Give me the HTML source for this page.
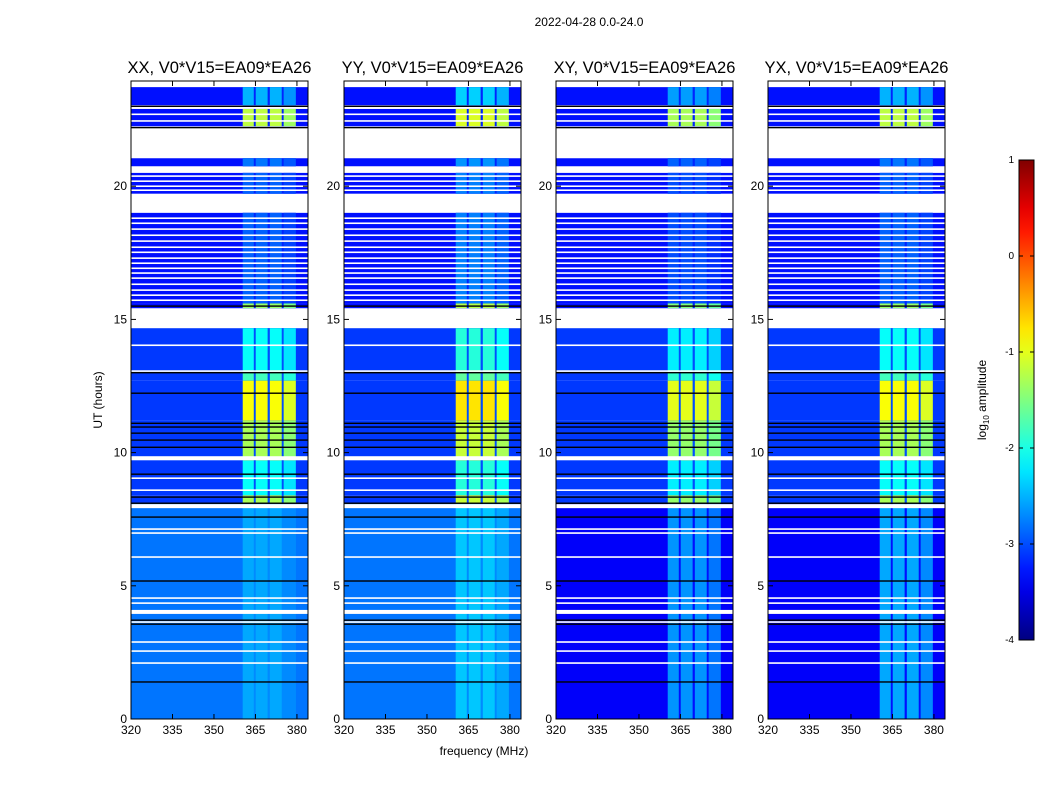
<!DOCTYPE html>
<html><head><meta charset="utf-8"><style>
body{margin:0;background:#fff;font-family:"Liberation Sans",sans-serif}
svg text{font-family:"Liberation Sans",sans-serif}
</style></head><body>
<svg id="fig" width="1050" height="800" viewBox="0 0 1050 800">
<text x="589" y="26" font-size="12" text-anchor="middle">2022-04-28 0.0-24.0</text>
<text x="484" y="755" font-size="12" text-anchor="middle">frequency (MHz)</text>
<text transform="translate(102,400) rotate(-90)" font-size="12" text-anchor="middle">UT (hours)</text>
<text transform="translate(986,400) rotate(-90)" font-size="12" text-anchor="middle">log<tspan font-size="8" dy="3">10</tspan><tspan dy="-3"> amplitude</tspan></text>
</svg>
<script>
// ---- data ----
const panelTitles = ["XX, V0*V15=EA09*EA26","YY, V0*V15=EA09*EA26","XY, V0*V15=EA09*EA26","YX, V0*V15=EA09*EA26"];
const panelLowerBg = [-2.8, -2.8, -3.4, -3.4];   // background level below 8 h
const panelRfiShift = [0, 0.15, -0.1, 0.0];
const xTicks = [320,335,350,365,380];
const yTicks = [0,5,10,15,20];
const cbTicks = [1,0,-1,-2,-3,-4];
// segments: start hour, end hour, background level (null = no data), RFI level
const segStart = [23.72,23.04,22.25,21.05,20.75,20.5,19.72,19.0,15.6,15.42,14.67,13.1,12.7,11.2,9.7,8.4,8.1,0];
const segEnd   = [23.95,23.72,22.9,22.14,21.05,20.75,20.5,19.72,19.0,15.6,15.42,14.67,13.1,12.7,11.2,9.7,8.4,8.1];
const segBg    = [null,-3.3,-3.3,null,-3.3,null,-3.3,null,-3.3,-3.3,null,-3.1,-3.1,-3.1,-3.1,-3.1,-3.1,"lower"];
const segRfi   = [null,-2.5,-1.2,null,-2.8,null,-2.9,null,-2.9,-1.4,null,-2.1,-1.8,-0.9,-1.3,-2.1,-1.3,-2.55];
// RFI bands (MHz)
const bandLo = [360.4,365.1,370.2,375.2];
const bandHi = [364.4,369.4,374.5,379.6];
const whiteLines = [22.95,22.7,22.45,20.38,20.19,20.0,19.85,18.80,18.61,18.39,18.16,17.94,17.71,17.52,17.30,17.11,16.92,16.74,16.55,16.32,16.10,15.91,15.72,14.03,13.06,9.04,8.59,7.13,6.98,6.08,4.54,4.35,3.64,2.89,2.55,2.10];
const thickWhite = [9.79,7.99,4.02];
const blackLines = [23.0,22.2,15.5,13.0,12.23,11.1,10.96,10.73,10.47,10.2,9.19,8.33,8.1,7.58,5.18,3.71,3.56,1.39];
// ---- drawing ----
const NS="http://www.w3.org/2000/svg";
const svg=document.getElementById('fig');
function mk(tag,attrs,parent){const e=document.createElementNS(NS,tag);for(const k in attrs)e.setAttribute(k,attrs[k]);(parent||svg).appendChild(e);return e;}
function clamp(v){return Math.max(0,Math.min(1,v));}
function jet(level){const v=clamp((level+4)/5);
 const r=clamp(1.5-Math.abs(4*v-3)),g=clamp(1.5-Math.abs(4*v-2)),b=clamp(1.5-Math.abs(4*v-1));
 return `rgb(${Math.round(r*255)},${Math.round(g*255)},${Math.round(b*255)})`;}
const panelX=[131,344,556,768], PW=177, PT=81, PB=719;
const fMin=320, fMax=384, hMin=0, hMax=23.95;
panelX.forEach((x0,p)=>{
 const g=mk('g',{});
 
 
 const xs=f=>x0+(f-fMin)/(fMax-fMin)*PW;
 const ys=h=>PB-(h-hMin)/(hMax-hMin)*(PB-PT);
 const t=mk('text',{x:x0+PW/2,y:73,'font-size':16.5,'text-anchor':'middle'},g);
 t.textContent=panelTitles[p];
 
 
 segStart.forEach((s,i)=>{
  if(segBg[i]===null)return;
  const bg=segBg[i]==="lower"?panelLowerBg[p]:segBg[i];
  const y1=ys(segEnd[i]),y2=ys(s);
  const r=mk('rect',{x:x0,y:y1,width:PW,height:y2-y1,fill:jet(bg)},g);
  
  
  const bx1=xs(bandLo[0]),bx2=xs(bandHi[3]);
  mk('rect',{x:bx1,y:y1,width:bx2-bx1,height:y2-y1,fill:jet(bg+0.1)},g);
  bandLo.forEach((lo,b)=>{
   const lv=segRfi[i]+panelRfiShift[p]-(b===3?0.15:0);
   const c=mk('rect',{x:xs(lo),y:y1,width:xs(bandHi[b])-xs(lo),height:y2-y1,fill:jet(lv)},g);
   
   
  });
 });
 whiteLines.forEach(h=>mk('rect',{x:x0,y:ys(h)-0.8,width:PW,height:1.6,fill:'#fff'},g));
 thickWhite.forEach(h=>mk('rect',{x:x0,y:ys(h)-2,width:PW,height:4,fill:'#fff'},g));
 blackLines.forEach(h=>mk('rect',{x:x0,y:ys(h)-0.7,width:PW,height:1.4,fill:'#000'},g));
 mk('rect',{x:x0,y:PT,width:PW,height:PB-PT,fill:'none',stroke:'#000','stroke-width':1},g);
 xTicks.forEach(f=>{const x=xs(f);
  mk('line',{x1:x,y1:PB,x2:x,y2:PB-5,stroke:'#000'},g);
  mk('line',{x1:x,y1:PT,x2:x,y2:PT+5,stroke:'#000'},g);
  const l=mk('text',{x:x,y:PB+15,'font-size':12,'text-anchor':'middle'},g);l.textContent=f;
  
  });
 yTicks.forEach(h=>{const y=ys(h);
  mk('line',{x1:x0,y1:y,x2:x0+5,y2:y,stroke:'#000'},g);
  mk('line',{x1:x0+PW,y1:y,x2:x0+PW-5,y2:y,stroke:'#000'},g);
  const l=mk('text',{x:x0-4,y:y+4,'font-size':12,'text-anchor':'end'},g);l.textContent=h;
  
  });
});
// colorbar
const cb=mk('g',{});


const defs=mk('defs',{},cb);
const grad=mk('linearGradient',{id:'jetg',x1:0,y1:1,x2:0,y2:0},defs);
for(let i=0;i<=20;i++){mk('stop',{offset:i/20,'stop-color':jet(-4+i*5/20)},grad);}
const cbX=1019,cbW=15,cbT=160,cbB=640;
mk('rect',{x:cbX,y:cbT,width:cbW,height:cbB-cbT,fill:'url(#jetg)',stroke:'#000'},cb);
cbTicks.forEach(v=>{const y=cbB-(v+4)/5*(cbB-cbT);
 mk('line',{x1:cbX,y1:y,x2:cbX+4,y2:y,stroke:'#000'},cb);
 mk('line',{x1:cbX+cbW,y1:y,x2:cbX+cbW-4,y2:y,stroke:'#000'},cb);
 const l=mk('text',{x:cbX-5,y:y+3,'font-size':10,'text-anchor':'end'},cb);l.textContent=v;
 
 });
</script>
</body></html>
